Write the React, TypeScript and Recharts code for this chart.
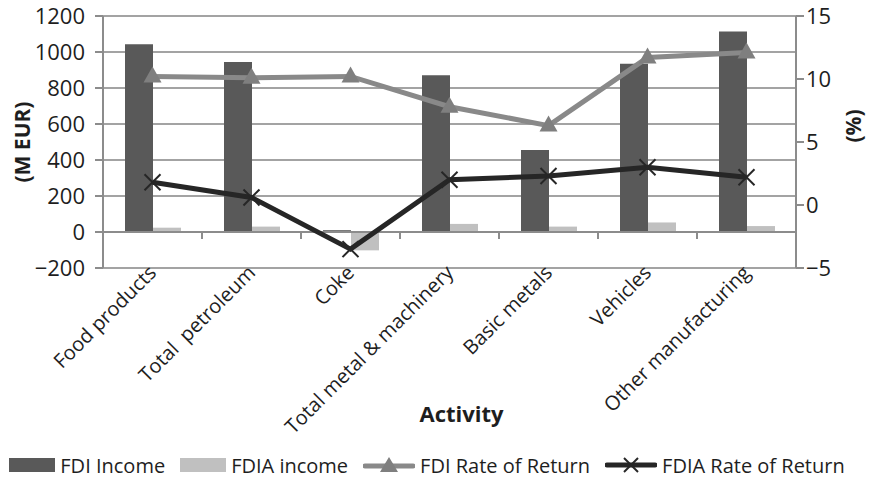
import React from 'react';
import { ComposedChart, Bar, Line, XAxis, YAxis, CartesianGrid, ReferenceLine, Legend } from 'recharts';

const categories = ['Food products', 'Total  petroleum', 'Coke', 'Total metal & machinery', 'Basic metals', 'Vehicles', 'Other manufacturing'];
const fdiIncome = [1043, 945, 10, 871, 455, 935, 1114];
const fdiaIncome = [24, 30, -102, 45, 30, 53, 33];
const fdiRateOfReturn = [10.2, 10.1, 10.2, 7.8, 6.3, 11.7, 12.1];
const fdiaRateOfReturn = [1.8, 0.6, -3.5, 2.0, 2.3, 3.0, 2.2];
const leftTicks = [-200, 0, 200, 400, 600, 800, 1000, 1200];
const rightTicks = [-5, 0, 5, 10, 15];

const data = categories.map((name, i) => ({
  name,
  fdiIncome: fdiIncome[i],
  fdiaIncome: fdiaIncome[i],
  fdiRate: fdiRateOfReturn[i],
  fdiaRate: fdiaRateOfReturn[i],
}));

const FONT = "'Open Sans', 'Noto Sans', sans-serif";
const TEXT = '#1e1e1e';
const AXIS = '#8c8c8c';
const GRID = '#a3a3a3';
const DARK_BAR = '#595959';
const LIGHT_BAR = '#c0c0c0';
const GRAY_LINE = '#898989';
const BLACK_LINE = '#262626';

const CategoryTick = (props: any) => {
  const { x, y, payload } = props;
  const ax = x + 5;
  const ay = y + 6;
  return (
    <text
      x={ax}
      y={ay}
      textAnchor="end"
      transform={`rotate(-45 ${ax} ${ay})`}
      fontFamily={FONT}
      fontSize={20}
      fill={TEXT}
      style={{ whiteSpace: 'pre' }}
    >
      {payload.value}
    </text>
  );
};

const TriangleDot = (props: any) => {
  const { cx, cy, index } = props;
  if (cx == null || cy == null) return <g key={`t-${index}`} />;
  return (
    <polygon
      key={`t-${index}`}
      points={`${cx},${cy - 10} ${cx + 9},${cy + 6} ${cx - 9},${cy + 6}`}
      fill="#7f7f7f"
    />
  );
};

const CrossDot = (props: any) => {
  const { cx, cy, index } = props;
  if (cx == null || cy == null) return <g key={`x-${index}`} />;
  const s = 8;
  return (
    <g key={`x-${index}`}>
      <line x1={cx - s} y1={cy - s} x2={cx + s} y2={cy + s} stroke={BLACK_LINE} strokeWidth={2} />
      <line x1={cx - s} y1={cy + s} x2={cx + s} y2={cy - s} stroke={BLACK_LINE} strokeWidth={2} />
    </g>
  );
};

const LeftLabel = (props: any) => {
  const { viewBox } = props;
  const cx = viewBox.x + 22;
  const cy = viewBox.y + viewBox.height / 2;
  return (
    <text x={cx} y={cy} textAnchor="middle" dominantBaseline="central" transform={`rotate(-90 ${cx} ${cy})`}
      fontFamily={FONT} fontSize={21} fontWeight="bold" fill={TEXT}>(M EUR)</text>
  );
};

const RightLabel = (props: any) => {
  const { viewBox } = props;
  const cx = viewBox.x + viewBox.width - 16;
  const cy = viewBox.y + viewBox.height / 2 - 16;
  return (
    <text x={cx} y={cy} textAnchor="middle" dominantBaseline="central" transform={`rotate(-90 ${cx} ${cy})`}
      fontFamily={FONT} fontSize={21} fontWeight="bold" fill={TEXT}>(%)</text>
  );
};

const BottomLabel = (props: any) => {
  const { viewBox } = props;
  const cx = viewBox.x + viewBox.width / 2 + 12;
  const cy = viewBox.y + 154;
  return (
    <text x={cx} y={cy} textAnchor="middle" fontFamily={FONT} fontSize={22} fontWeight="bold" fill={TEXT}>Activity</text>
  );
};

const LegendItem = ({ swatch, label }: { swatch: React.ReactNode; label: string }) => (
  <div style={{ display: 'flex', alignItems: 'center', marginRight: 15 }}>
    {swatch}
    <span style={{ marginLeft: 5 }}>{label}</span>
  </div>
);

const renderLegend = () => (
  <div
    style={{
      display: 'flex',
      justifyContent: 'center',
      alignItems: 'center',
      height: 26,
      fontFamily: FONT,
      fontSize: 20,
      color: TEXT,
      whiteSpace: 'nowrap',
    }}
  >
    <LegendItem
      label="FDI Income"
      swatch={<svg width={46} height={16}><rect x={0} y={1} width={46} height={14} fill={DARK_BAR} /></svg>}
    />
    <LegendItem
      label="FDIA income"
      swatch={<svg width={46} height={16}><rect x={0} y={1} width={46} height={14} fill={LIGHT_BAR} /></svg>}
    />
    <LegendItem
      label="FDI Rate of Return"
      swatch={
        <svg width={52} height={18}>
          <line x1={2} y1={10} x2={50} y2={10} stroke={GRAY_LINE} strokeWidth={5} strokeLinecap="round" />
          <polygon points="26,1 35,16 17,16" fill="#7f7f7f" />
        </svg>
      }
    />
    <LegendItem
      label="FDIA Rate of Return"
      swatch={
        <svg width={52} height={18}>
          <line x1={2} y1={9} x2={50} y2={9} stroke={BLACK_LINE} strokeWidth={5} strokeLinecap="round" />
          <line x1={19} y1={2} x2={33} y2={16} stroke={BLACK_LINE} strokeWidth={2} />
          <line x1={19} y1={16} x2={33} y2={2} stroke={BLACK_LINE} strokeWidth={2} />
        </svg>
      }
    />
  </div>
);

export default function App() {
  return (
    <div style={{ position: 'absolute', left: 0, top: 0, width: 869, height: 482, background: '#fff' }}>
      <ComposedChart
        width={869}
        height={482}
        data={data}
        margin={{ top: 16, right: 0, bottom: 4, left: 0 }}
        barGap={0}
        barSize={28}
      >
        <CartesianGrid yAxisId="left" vertical={false} stroke={GRID} strokeWidth={2} />
        <XAxis
          dataKey="name"
          interval={0}
          height={184}
          axisLine={false}
          tickLine={false}
          tickSize={0}
          tickMargin={0}
          tick={<CategoryTick />}
          label={<BottomLabel />}
        />
        <YAxis
          yAxisId="left"
          width={103}
          domain={[-200, 1200]}
          ticks={leftTicks}
          interval={0}
          axisLine={{ stroke: AXIS, strokeWidth: 2 }}
          tickLine={{ stroke: AXIS, strokeWidth: 2 }}
          tickSize={8}
          tickMargin={10}
          tick={{ fontFamily: FONT, fontSize: 22, fill: TEXT }}
          tickFormatter={(v: number) => (v < 0 ? `\u2212${Math.abs(v)}` : `${v}`)}
          label={<LeftLabel />}
        />
        <YAxis
          yAxisId="right"
          orientation="right"
          width={73}
          domain={[-5, 15]}
          ticks={rightTicks}
          interval={0}
          axisLine={{ stroke: AXIS, strokeWidth: 2 }}
          tickLine={{ stroke: AXIS, strokeWidth: 2 }}
          tickSize={8}
          tickMargin={2}
          tick={{ fontFamily: FONT, fontSize: 22, fill: TEXT }}
          tickFormatter={(v: number) => (v < 0 ? `\u2212${Math.abs(v)}` : `${v}`)}
          label={<RightLabel />}
        />
        <Legend verticalAlign="bottom" content={renderLegend} />
        <Bar yAxisId="left" dataKey="fdiIncome" name="FDI Income" fill={DARK_BAR} isAnimationActive={false} />
        <Bar yAxisId="left" dataKey="fdiaIncome" name="FDIA income" fill={LIGHT_BAR} isAnimationActive={false} />
        <ReferenceLine yAxisId="left" y={0} stroke={AXIS} strokeWidth={2} />
        {categories.slice(1).map((c) => (
          <ReferenceLine
            key={`tick-${c}`}
            yAxisId="left"
            position="start"
            segment={[{ x: c, y: 0 }, { x: c, y: -39 }]}
            stroke={AXIS}
            strokeWidth={2}
          />
        ))}
        <Line
          yAxisId="right"
          dataKey="fdiRate"
          name="FDI Rate of Return"
          stroke={GRAY_LINE}
          strokeWidth={5}
          dot={TriangleDot}
          activeDot={false}
          isAnimationActive={false}
        />
        <Line
          yAxisId="right"
          dataKey="fdiaRate"
          name="FDIA Rate of Return"
          stroke={BLACK_LINE}
          strokeWidth={5}
          dot={CrossDot}
          activeDot={false}
          isAnimationActive={false}
        />
      </ComposedChart>
    </div>
  );
}
